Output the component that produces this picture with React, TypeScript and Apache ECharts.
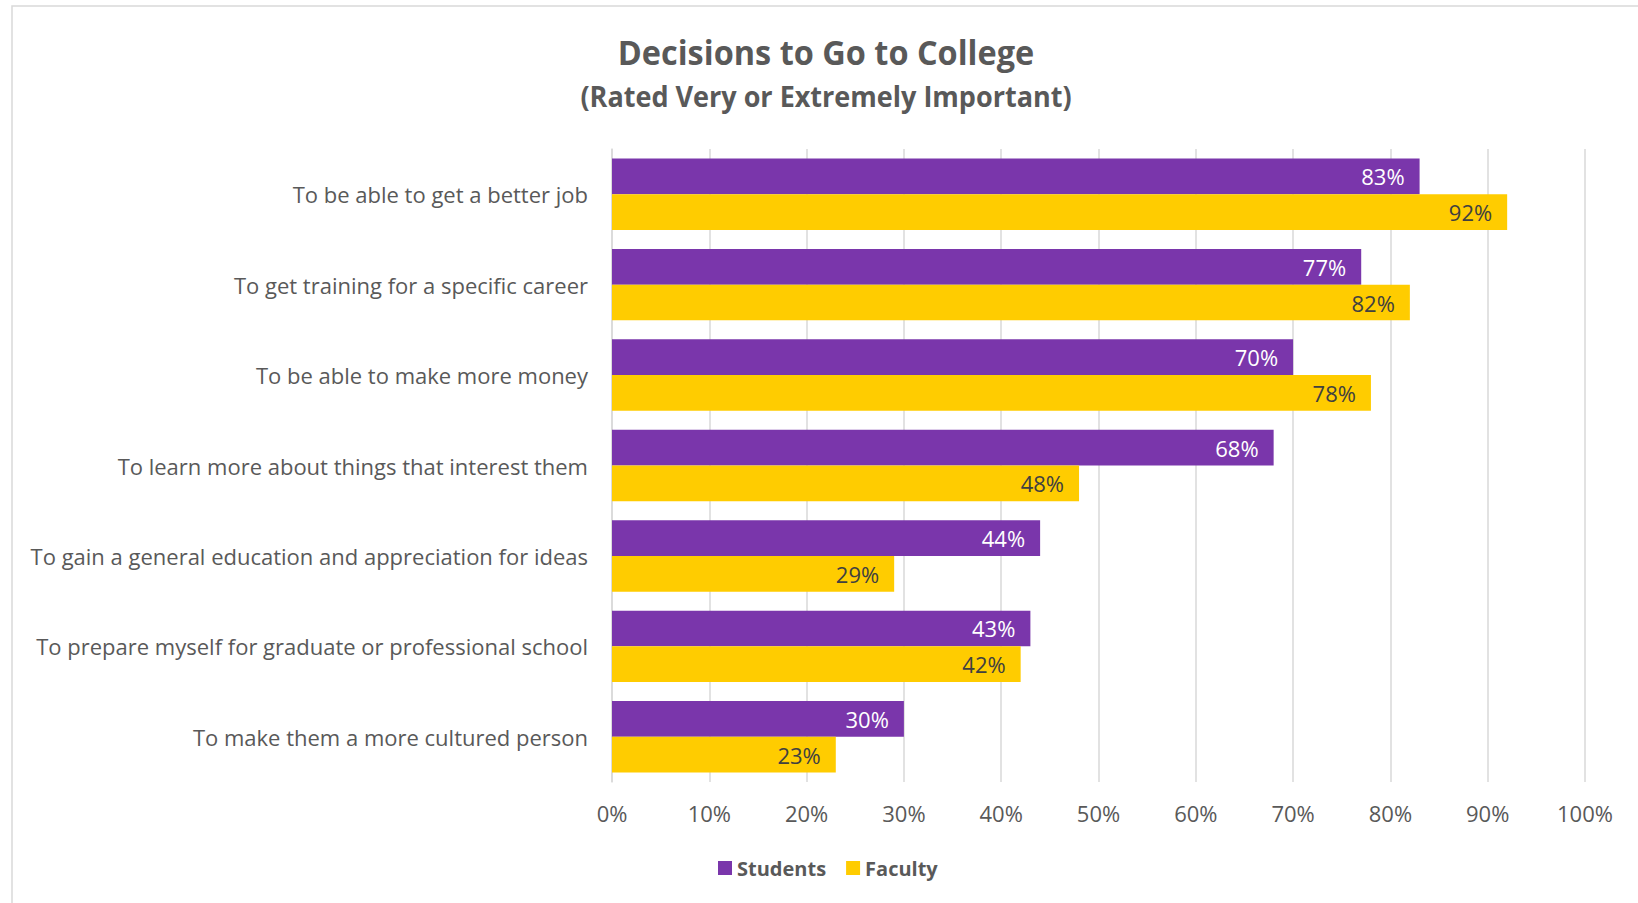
import React, { useEffect, useRef } from "react";
import * as echarts from "echarts";

const categories = [
  "To be able to get a better job",
  "To get training for a specific career",
  "To be able to make more money",
  "To learn more about things that interest them",
  "To gain a general education and appreciation for ideas",
  "To prepare myself for graduate or professional school",
  "To make them a more cultured person",
];
const students = [83, 77, 70, 68, 44, 43, 30];
const faculty = [92, 82, 78, 48, 29, 42, 23];
const seriesNames = ["Students", "Faculty"];
const titleText = "Decisions to Go to College";
const subtitleText = "(Rated Very or Extremely Important)";

const FONT = "'Open Sans', 'Noto Sans', sans-serif";
const TITLE_FONT = "'Open Sans', sans-serif";

export default function App() {
  const ref = useRef<HTMLDivElement>(null);
  useEffect(() => {
    if (!ref.current) return;
    const chart = echarts.init(ref.current, undefined, { renderer: "svg" });
    chart.setOption({
      animation: false,
      backgroundColor: "#ffffff",
      graphic: [
        {
          type: "rect",
          shape: { x: 12, y: 6, width: 1700, height: 1000 },
          style: { fill: "none", stroke: "#d9d9d9", lineWidth: 1.5 },
          silent: true,
        },
        {
          type: "text",
          x: 826,
          y: 52,
          scaleX: 0.955,
          style: {
            text: titleText,
            fill: "#595959",
            font: `bold 34px ${TITLE_FONT}`,
            textAlign: "center",
            textVerticalAlign: "middle",
          },
        },
        {
          type: "text",
          x: 826,
          y: 96,
          scaleX: 0.965,
          style: {
            text: subtitleText,
            fill: "#595959",
            font: `bold 28px ${TITLE_FONT}`,
            textAlign: "center",
            textVerticalAlign: "middle",
          },
        },
      ],
      legend: {
        data: seriesNames,
        left: 713,
        top: 853,
        itemWidth: 14,
        itemHeight: 14,
        itemGap: 20,
        icon: "rect",
        textStyle: {
          color: "#595959",
          fontSize: 20,
          fontWeight: "bold",
          fontFamily: TITLE_FONT,
        },
      },
      grid: { left: 612, right: 53, top: 149, bottom: 121 },
      xAxis: {
        type: "value",
        min: 0,
        max: 100,
        interval: 10,
        axisLine: { show: false },
        axisTick: { show: false },
        splitLine: { show: true, lineStyle: { color: "#d9d9d9", width: 1.5 } },
        axisLabel: {
          formatter: "{value}%",
          color: "#595959",
          fontSize: 22,
          fontFamily: FONT,
          margin: 20,
        },
      },
      yAxis: {
        type: "category",
        data: categories,
        inverse: true,
        axisLine: { show: true, lineStyle: { color: "#d9d9d9", width: 1.5 } },
        axisTick: { show: false },
        axisLabel: {
          color: "#595959",
          fontSize: 22,
          fontFamily: FONT,
          margin: 24,
        },
      },
      series: [
        {
          name: seriesNames[0],
          type: "bar",
          data: students,
          barGap: "0%",
          barCategoryGap: "21%",
          itemStyle: { color: "#7a36ab" },
          label: {
            show: true,
            position: "insideRight",
            distance: 15,
            formatter: "{c}%",
            color: "#ffffff",
            fontSize: 22,
            fontFamily: FONT,
          },
        },
        {
          name: seriesNames[1],
          type: "bar",
          data: faculty,
          barGap: "0%",
          barCategoryGap: "21%",
          itemStyle: { color: "#ffcc00" },
          label: {
            show: true,
            position: "insideRight",
            distance: 15,
            formatter: "{c}%",
            color: "#404040",
            fontSize: 22,
            fontFamily: FONT,
          },
        },
      ],
    });
    return () => chart.dispose();
  }, []);
  return (
    <div
      ref={ref}
      style={{ position: "fixed", left: 0, top: 0, width: 1638, height: 903 }}
    />
  );
}
